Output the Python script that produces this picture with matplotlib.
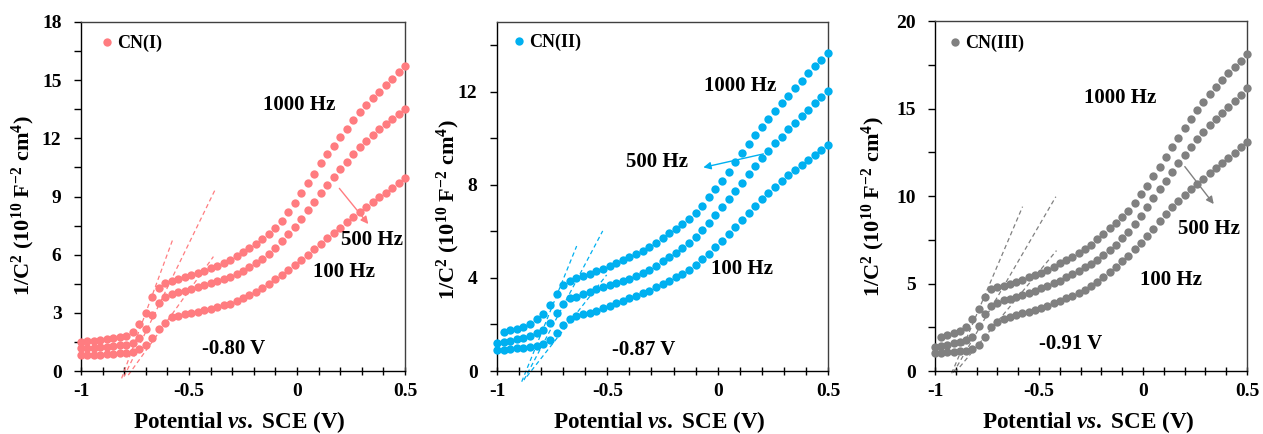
import numpy as np
import matplotlib
matplotlib.use('Agg')
import matplotlib.pyplot as plt
from matplotlib.ticker import MultipleLocator

plt.rcParams['font.family'] = ['Liberation Serif', 'DejaVu Serif']
plt.rcParams['font.weight'] = 'bold'
plt.rcParams['axes.unicode_minus'] = False
plt.rcParams['mathtext.fontset'] = 'custom'
plt.rcParams['mathtext.rm'] = 'Liberation Serif:bold'
plt.rcParams['mathtext.it'] = 'Liberation Serif:italic:bold'
plt.rcParams['mathtext.bf'] = 'Liberation Serif:bold'

nan = np.nan

# ---------------- data ----------------
potential = [-1.00, -0.97, -0.94, -0.91, -0.88, -0.85, -0.82, -0.79, -0.76, -0.73,
             -0.70, -0.67, -0.64, -0.61, -0.58, -0.55, -0.52, -0.49, -0.46, -0.43,
             -0.40, -0.37, -0.34, -0.31, -0.28, -0.25, -0.22, -0.19, -0.16, -0.13,
             -0.10, -0.07, -0.04, -0.01, 0.02, 0.05, 0.08, 0.11, 0.14, 0.17,
             0.20, 0.23, 0.26, 0.29, 0.32, 0.35, 0.38, 0.41, 0.44, 0.47, 0.50]

cn1_1000 = [1.51, 1.54, 1.57, 1.61, 1.65, 1.70, 1.75, 1.82, 2.02, 2.42, 2.98, 3.80, 4.30,
            4.55, 4.66, 4.74, 4.83, 4.93, 5.04, 5.16, 5.29, 5.42, 5.55, 5.72, 5.92, 6.12,
            6.32, 6.55, 6.79, 7.07, 7.36, 7.76, 8.18, 8.65, 9.16, 9.71, 10.16, 10.71, 11.19,
            11.60, 12.05, 12.48, 12.94, 13.34, 13.71, 14.06, 14.40, 14.73, 15.04, 15.40, 15.73]
cn1_500 = [1.17, 1.19, 1.21, 1.23, 1.26, 1.29, 1.32, 1.36, 1.45, 1.72, 2.15, 2.88, 3.52,
           3.82, 3.95, 4.05, 4.14, 4.23, 4.33, 4.42, 4.52, 4.62, 4.73, 4.85, 5.00, 5.17,
           5.34, 5.55, 5.78, 6.05, 6.35, 6.70, 7.06, 7.45, 7.85, 8.28, 8.72, 9.16, 9.59,
           9.99, 10.40, 10.80, 11.18, 11.53, 11.86, 12.17, 12.47, 12.76, 13.02, 13.26, 13.49]
cn1_100 = [0.82, 0.83, 0.84, 0.85, 0.87, 0.89, 0.91, 0.94, 1.00, 1.12, 1.35, 1.70, 2.18,
           2.48, 2.76, 2.85, 2.92, 2.98, 3.05, 3.13, 3.21, 3.30, 3.39, 3.48, 3.60, 3.74,
           3.90, 4.08, 4.28, 4.50, 4.72, 4.96, 5.20, 5.45, 5.72, 6.00, 6.28, 6.57, 6.86,
           7.13, 7.40, 7.67, 7.93, 8.19, 8.45, 8.70, 8.95, 9.20, 9.45, 9.71, 9.97]

cn2_1000 = [nan, 1.66, 1.76, 1.82, 1.91, 2.01, 2.22, 2.45, 2.84, 3.31, 3.69, 3.87, 3.98,
            4.08, 4.18, 4.29, 4.40, 4.52, 4.64, 4.76, 4.89, 5.02, 5.16, 5.31, 5.48, 5.70,
            5.91, 6.09, 6.30, 6.52, 6.77, 7.10, 7.46, 7.82, 8.18, 8.57, 8.99, 9.38, 9.75,
            10.14, 10.47, 10.83, 11.17, 11.50, 11.83, 12.15, 12.48, 12.79, 13.11, 13.37, 13.65]
cn2_500 = [1.22, 1.26, 1.30, 1.36, 1.43, 1.52, 1.62, 1.76, 2.05, 2.48, 2.86, 3.12, 3.19,
           3.31, 3.41, 3.51, 3.60, 3.68, 3.77, 3.87, 3.97, 4.09, 4.20, 4.34, 4.50, 4.72,
           4.88, 5.08, 5.27, 5.51, 5.77, 6.06, 6.37, 6.70, 7.06, 7.38, 7.75, 8.09, 8.45,
           8.81, 9.14, 9.47, 9.78, 10.07, 10.39, 10.67, 10.96, 11.22, 11.50, 11.79, 12.05]
cn2_100 = [0.90, 0.90, 0.94, 0.97, 1.00, 1.04, 1.09, 1.16, 1.33, 1.62, 1.98, 2.22, 2.36,
           2.45, 2.51, 2.59, 2.69, 2.79, 2.91, 3.01, 3.12, 3.22, 3.34, 3.45, 3.60, 3.76,
           3.88, 4.02, 4.17, 4.34, 4.55, 4.80, 5.02, 5.31, 5.60, 5.88, 6.20, 6.49, 6.80,
           7.09, 7.38, 7.66, 7.92, 8.18, 8.42, 8.64, 8.85, 9.07, 9.28, 9.50, 9.71]

cn3_1000 = [nan, 1.92, 2.06, 2.15, 2.29, 2.53, 2.96, 3.52, 4.25, 4.69, 4.78, 4.87, 4.97,
            5.06, 5.20, 5.35, 5.49, 5.62, 5.77, 5.96, 6.15, 6.34, 6.53, 6.72, 6.98, 7.22,
            7.54, 7.83, 8.15, 8.44, 8.78, 9.16, 9.58, 10.11, 10.59, 11.14, 11.68, 12.25, 12.78,
            13.29, 13.87, 14.40, 14.91, 15.39, 15.81, 16.25, 16.63, 17.01, 17.39, 17.73, 18.11]
cn3_500 = [1.35, 1.43, 1.49, 1.58, 1.68, 1.77, 1.96, 2.59, 3.26, 3.73, 3.90, 4.06, 4.13,
           4.25, 4.34, 4.48, 4.59, 4.72, 4.86, 5.01, 5.17, 5.36, 5.53, 5.72, 5.92, 6.11,
           6.34, 6.63, 6.91, 7.20, 7.58, 7.96, 8.40, 8.86, 9.36, 9.87, 10.39, 10.88, 11.36,
           11.87, 12.34, 12.82, 13.26, 13.68, 14.06, 14.40, 14.76, 15.10, 15.43, 15.77, 16.15]
cn3_100 = [1.05, 1.05, 1.09, 1.10, 1.14, 1.16, 1.24, 1.48, 1.96, 2.50, 2.78, 2.97, 3.11,
           3.20, 3.30, 3.39, 3.49, 3.62, 3.73, 3.87, 4.00, 4.15, 4.31, 4.48, 4.65, 4.85,
           5.10, 5.38, 5.66, 5.95, 6.26, 6.60, 6.95, 7.30, 7.70, 8.12, 8.55, 8.95, 9.35,
           9.72, 10.06, 10.39, 10.69, 10.95, 11.30, 11.58, 11.87, 12.15, 12.43, 12.78, 13.10]

sample_names = ['CN(I)', 'CN(II)', 'CN(III)']
colors = ['#FF7C80', '#00B0F0', '#808080']
y_max = [18, 15, 20]
y_major = [3, 4, 5]

# Mott-Schottky tangent lines: (x_start, y_start, x_end, y_end)
tangents1 = [(-0.812, -0.38, -0.576, 6.76), (-0.801, -0.29, -0.380, 9.33), (-0.781, -0.21, -0.387, 5.90)]
tangents2 = [(-0.888, -0.46, -0.639, 5.37), (-0.878, -0.39, -0.521, 6.02), (-0.865, -0.24, -0.503, 4.13)]
tangents3 = [(-0.920, -0.13, -0.579, 9.39), (-0.912, -0.10, -0.419, 9.96), (-0.904, -0.10, -0.416, 6.88)]

# frequency / flat-band labels: (text, x, y)
labels1 = [('1000 Hz', 0.01, 13.7), ('500 Hz', 0.346, 6.76), ('100 Hz', 0.218, 5.12), ('-0.80 V', -0.295, 1.12)]
labels2 = [('1000 Hz', 0.10, 12.25), ('500 Hz', -0.274, 8.97), ('100 Hz', 0.109, 4.37), ('-0.87 V', -0.334, 0.90)]
labels3 = [('1000 Hz', -0.11, 15.58), ('500 Hz', 0.316, 8.09), ('100 Hz', 0.137, 5.2), ('-0.91 V', -0.347, 1.54)]

# arrows: (x_start, y_start, x_end, y_end)
arrow1 = (0.196, 9.42, 0.330, 7.58)
arrow2 = (0.207, 9.33, -0.065, 8.75)
arrow3 = (0.201, 11.68, 0.340, 9.54)

series = [[cn1_1000, cn1_500, cn1_100], [cn2_1000, cn2_500, cn2_100], [cn3_1000, cn3_500, cn3_100]]
tangents = [tangents1, tangents2, tangents3]
labels = [labels1, labels2, labels3]
arrows = [arrow1, arrow2, arrow3]

# ---------------- layout ----------------
W, H = 1263, 434
boxes = [(81, 22, 405, 371), (497, 22, 828, 371), (935, 21, 1247, 371)]
ylab_x = [-0.135, -0.105, -0.155]
ylab_y = [0.473, 0.461, 0.47]
legend_dx = [0.036, 0.024, 0.018]
legend_dy = [0.992, 0.994, 0.988]

fig = plt.figure(figsize=(W / 100, H / 100), dpi=100)

for k in range(3):
    l, t, r, b = boxes[k]
    ax = fig.add_axes([l / W, (H - b) / H, (r - l) / W, (b - t) / H])
    c = colors[k]
    for j, ys in enumerate(series[k]):
        ax.plot(potential, ys, linestyle='none', marker='o', ms=6.0, mfc=c, mec='none',
                clip_on=False, zorder=3, label=sample_names[k] if j == 0 else None)
    for (x0, y0, x1, y1) in tangents[k]:
        ax.plot([x0, x1], [y0, y1], linestyle=(0, (3.5, 2.5)), lw=0.9, color=c, clip_on=False, zorder=2)
    for (txt, tx, ty) in labels[k]:
        ax.text(tx, ty, txt, ha='center', va='center', fontsize=15, fontweight='bold', color='black')
    ax0, ay0, ax1, ay1 = arrows[k]
    ax.annotate('', xy=(ax1, ay1), xytext=(ax0, ay0),
                arrowprops=dict(arrowstyle='-|>', color=c, lw=1.0, mutation_scale=11, shrinkA=0, shrinkB=0))

    ax.set_xlim(-1, 0.5)
    ax.set_ylim(0, y_max[k])
    ax.xaxis.set_major_locator(MultipleLocator(0.5))
    ax.xaxis.set_minor_locator(MultipleLocator(0.1))
    ax.yaxis.set_major_locator(MultipleLocator(y_major[k]))
    ax.yaxis.set_minor_locator(MultipleLocator(y_major[k] / 2))
    ax.xaxis.set_major_formatter(plt.FuncFormatter(lambda v, p: ('%g' % v)))
    ax.tick_params(axis='y', which='both', direction='out', length=5, width=1, right=False)
    ax.tick_params(axis='x', which='both', direction='inout', length=6, width=1, top=False)
    ax.tick_params(axis='y', which='major', labelsize=14, pad=9)
    ax.tick_params(axis='x', which='major', labelsize=14, pad=6)
    for s in ['left', 'bottom']:
        ax.spines[s].set_color('black')
        ax.spines[s].set_linewidth(1.0)
    for s in ['top', 'right']:
        ax.spines[s].set_color('#404040')
        ax.spines[s].set_linewidth(1.0)
    for lab in ax.get_xticklabels() + ax.get_yticklabels():
        lab.set_fontweight('bold')

    ax.set_xlabel(r'Potential $vs.$ SCE (V)', fontsize=16.7, fontweight='bold')
    ax.xaxis.set_label_coords(0.49, -0.108)
    ax.set_ylabel(r'1/C$^{2}$ (10$^{10}$ F$^{-2}$ cm$^{4}$)', fontsize=16, fontweight='bold')
    ax.yaxis.set_label_coords(ylab_x[k], ylab_y[k])

    ax.legend(loc='upper left', bbox_to_anchor=(legend_dx[k], legend_dy[k]), frameon=False,
              handlelength=0.5, handletextpad=0.3, borderaxespad=0.25, borderpad=0.3,
              prop={'family': ['Liberation Serif'], 'weight': 'bold', 'size': 13})

fig.savefig('out.png', dpi=100)
